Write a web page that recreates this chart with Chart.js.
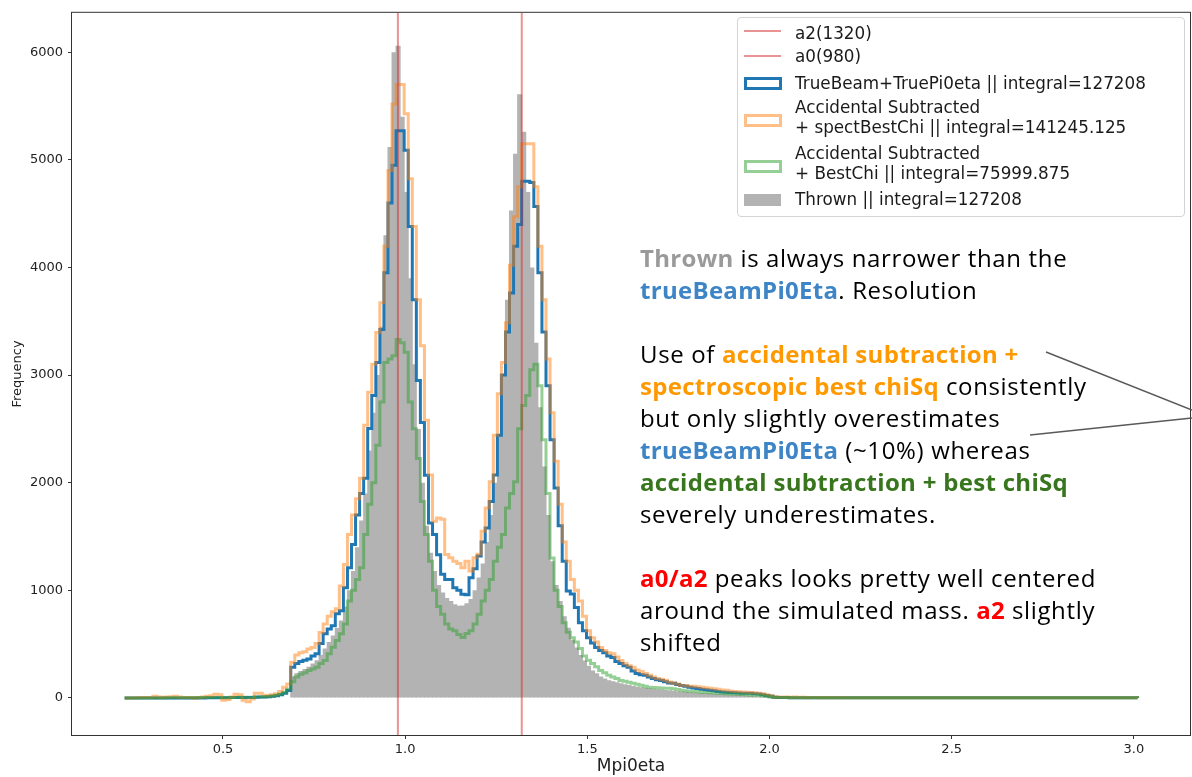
<!DOCTYPE html>
<html>
<head>
<meta charset="utf-8">
<title>Mpi0eta</title>
<script src="https://cdn.jsdelivr.net/npm/chart.js"></script>
<style>
  html, body { margin: 0; padding: 0; background: #fff; }
  #wrap { position: relative; width: 1192px; height: 777px; overflow: hidden; }
  #chart { position: absolute; left: 0; top: 0; }
  #legend {
    position: absolute; left: 737px; top: 17px; width: 446px; height: 198px;
    border: 1px solid #d4d4d4; border-radius: 4px; background: rgba(255,255,255,0.8);
    font-family: "DejaVu Sans", sans-serif; font-size: 16.8px; color: #1a1a1a;
  }
  #legend .row { position: absolute; left: 0; right: 0; }
  #legend .txt { position: absolute; left: 57px; top: 0; line-height: 20px; white-space: nowrap; }
  #legend .sw { position: absolute; left: 6px; box-sizing: border-box; }
  #notes {
    position: absolute; left: 640px; top: 242px; line-height: 32px;
    font-family: "Open Sans", sans-serif; font-size: 24px; letter-spacing: 0.65px;
    color: #000; white-space: nowrap;
  }
  #notes b { font-weight: 700; letter-spacing: 0.3px; }
</style>
</head>
<body>
<div id="wrap">
  <canvas id="chart" width="1192" height="777"></canvas>
  <div id="legend"></div>
  <div id="notes"><b style="color:#9a9a9a">Thrown</b> is always narrower than the<br><b style="color:#3d85c6">trueBeamPi0Eta</b>. Resolution<br><br>Use of <b style="color:#ff9900">accidental subtraction +</b><br><b style="color:#ff9900">spectroscopic best chiSq</b> consistently<br>but only slightly overestimates<br><b style="color:#3d85c6">trueBeamPi0Eta</b> (~10%) whereas<br><b style="color:#38761d">accidental subtraction + best chiSq</b><br>severely underestimates.<br><br><b style="color:#ff0000">a0/a2</b> peaks looks pretty well centered<br>around the simulated mass. <b style="color:#ff0000">a2</b> slightly<br>shifted</div>
</div>
<script>
// ---- histogram binning (250 bins) ----
const binStart = 0.23;
const binWidth = 0.01112;

// ---- resonance reference lines ----
const resonanceMass = [1.32, 0.98];
const resonanceLabel = ['a2(1320)', 'a0(980)'];

// ---- axis ticks ----
const xTicks = [0.5, 1.0, 1.5, 2.0, 2.5, 3.0];
const yTicks = [0, 1000, 2000, 3000, 4000, 5000, 6000];
const xRange = [0.0856, 3.154];
const yRange = [-344, 6366];

// ---- series (counts per bin) ----
const trueBeam = [
  0,0,0,0,0,0,0,0,0,0,
  0,0,0,0,0,0,0,0,0,0,
  2,2,3,3,3,3,4,4,4,5,
  5,5,6,8,10,12,15,20,30,45,
  70,286,320,340,350,362,390,412,505,597,
  640,671,782,810,1025,1209,1425,1701,1900,2041,
  2503,2810,3118,3424,3950,4600,4950,5270,5270,5090,
  4380,3700,2950,2560,2070,1625,1520,1330,1150,1100,
  1100,1025,1000,964,960,1117,1200,1318,1450,1579,
  1826,2072,2441,3000,3400,3763,4196,4400,4800,4800,
  4790,4566,3950,3400,2900,2400,1950,1600,1270,994,
  966,840,700,625,560,510,470,440,420,390,
  376,340,320,300,285,250,228,215,210,195,
  180,170,163,150,140,136,125,117,108,100,
  92,88,82,76,71,66,60,56,53,50,
  48,46,45,44,43,40,36,30,24,15,
  6,5,4,4,3,3,3,3,3,2,
  2,2,2,2,2,2,2,2,2,2,
  2,2,1,1,2,1,1,1,1,1,
  1,1,1,1,1,1,1,1,1,1,
  1,1,1,1,1,1,1,1,1,1,
  1,1,1,1,1,1,1,1,1,1,
  1,1,1,1,1,1,1,1,1,1,
  1,1,1,1,1,1,1,1,1,1,
  1,1,1,1,1,1,1,1,1,1
];
const spectBestChi = [
  0,0,0,5,5,5,5,15,10,5,
  10,12,15,10,5,5,5,0,5,10,
  15,20,35,30,-20,-15,10,35,30,-20,
  -35,-10,45,45,25,25,30,40,60,100,
  130,332,400,420,430,455,470,505,609,688,
  760,800,830,1040,1241,1518,1701,1850,2041,2533,
  2841,3100,3395,3672,4196,4900,5519,5700,5700,5427,
  4825,4380,3700,3272,2580,2072,1641,1671,1660,1333,
  1302,1271,1250,1209,1271,1179,1302,1336,1548,1764,
  2010,2440,2826,3118,3487,4020,4470,4750,5150,5150,
  5150,4750,4196,3700,3150,2650,2200,1800,1450,1270,
  1100,1000,902,760,625,560,520,470,440,420,
  410,380,348,320,300,285,260,245,228,210,
  195,180,175,165,148,140,130,117,115,110,
  108,105,100,95,90,85,80,75,71,65,
  60,58,55,53,50,48,45,40,30,22,
  10,8,6,10,5,8,4,6,3,5,
  4,3,5,2,4,3,2,4,3,2,
  3,2,3,1,2,3,2,1,2,2,
  1,2,1,2,1,1,2,1,1,2,
  1,1,2,1,1,1,2,1,1,1,
  1,2,1,1,1,1,1,2,1,1,
  1,1,1,1,2,1,1,1,1,1,
  1,1,1,1,1,1,1,1,1,1,
  1,1,1,1,1,1,1,1,1,1
];
const bestChi = [
  0,0,0,0,0,0,0,0,0,0,
  2,2,2,2,3,3,3,3,4,4,
  5,5,5,5,5,5,5,5,6,6,
  6,6,8,10,12,14,18,25,35,50,
  80,150,194,220,235,256,270,286,320,348,
  410,471,533,597,688,902,1000,1100,1209,1518,
  1800,2000,2349,2749,3118,3150,3180,3330,3300,3211,
  2749,2502,2225,1826,1518,1271,1000,850,779,688,
  640,625,590,563,600,625,688,779,902,1000,
  1100,1271,1400,1518,1764,1900,2010,2502,2718,2810,
  3050,3100,2900,2400,1900,1300,1000,850,700,610,
  560,520,460,390,350,320,290,256,235,210,
  195,180,163,155,145,136,128,118,108,99,
  97,95,93,91,90,85,78,72,67,62,
  60,57,54,51,48,46,45,43,40,38,
  36,34,32,30,28,26,25,20,15,10,
  6,5,4,4,3,3,3,2,2,2,
  2,2,2,2,2,2,2,2,2,2,
  2,2,1,2,1,1,2,1,1,1,
  1,1,1,1,1,1,1,1,1,1,
  1,1,1,1,1,1,1,1,1,1,
  1,1,1,1,1,1,1,1,1,1,
  1,1,1,1,1,1,1,1,1,1,
  1,1,1,1,1,1,1,1,1,1,
  1,1,1,1,1,1,1,1,1,1
];
const thrown = [
  0,0,0,0,0,0,0,0,0,0,
  0,0,0,0,0,0,0,0,0,0,
  0,0,0,0,0,0,0,0,0,0,
  0,0,0,0,0,0,0,0,0,0,
  0,200,230,250,270,290,320,350,400,460,
  520,580,650,720,850,1000,1180,1400,1650,1900,
  2300,2650,3000,3450,4300,5120,6000,6060,5400,4700,
  3900,3100,2500,2000,1600,1350,1180,1050,980,930,
  900,870,856,860,880,920,1000,1120,1250,1450,
  1700,2000,2450,3000,3700,4530,5056,5610,5260,4700,
  4000,3300,2700,2150,1700,1270,1050,902,760,653,
  540,470,400,348,300,256,230,200,180,165,
  155,145,136,128,120,112,105,99,95,90,
  86,82,78,75,71,67,63,60,57,54,
  51,48,46,44,43,40,38,36,34,32,
  30,28,25,22,20,17,14,11,9,7,
  6,4,3,2,2,1,1,0,0,0,
  0,0,0,0,0,0,0,0,0,0,
  0,0,0,0,0,0,0,0,0,0,
  0,0,0,0,0,0,0,0,0,0,
  0,0,0,0,0,0,0,0,0,0,
  0,0,0,0,0,0,0,0,0,0,
  0,0,0,0,0,0,0,0,0,0,
  0,0,0,0,0,0,0,0,0,0,
  0,0,0,0,0,0,0,0,0,0
];

const seriesLabels = [
  'TrueBeam+TruePi0eta || integral=127208',
  'Accidental Subtracted\n+ spectBestChi || integral=141245.125',
  'Accidental Subtracted\n+ BestChi || integral=75999.875',
  'Thrown || integral=127208'
];

const TICK_FONT = { family: 'DejaVu Sans', size: 13 };
const INK = '#222';
const PLOT_WIDTH = 1118;  // chart area width in px (72 .. 1190)

// outline of a matplotlib 'step' histogram, bin edges from binStart/binWidth
function stepPoints(values) {
  const pts = [{ x: binStart, y: 0 }];
  values.forEach((v, i) => pts.push({ x: binStart + i * binWidth, y: v }));
  const end = binStart + values.length * binWidth;
  pts.push({ x: end, y: values[values.length - 1] });
  pts.push({ x: end, y: 0 });
  return pts;
}

// filled histogram: one bar per bin, centred on the bin
function barPoints(values) {
  return values.map((v, i) => ({ x: binStart + (i + 0.5) * binWidth, y: v }));
}

// one bin in pixels, plus 1px so neighbouring bars overlap and leave no seams
const binPixels = binWidth * PLOT_WIDTH / (xRange[1] - xRange[0]) + 1;

const datasets = [];
resonanceMass.forEach((m, i) => {
  datasets.push({
    label: resonanceLabel[i], kind: 'vline',
    data: [{ x: m, y: yRange[0] }, { x: m, y: yRange[1] }],
    borderColor: 'rgba(214,39,40,0.5)', borderWidth: 2, order: 0
  });
});
datasets.push({
  label: seriesLabels[0], kind: 'step', data: stepPoints(trueBeam), stepped: true,
  borderColor: '#1f77b4', borderWidth: 3, fill: false, order: 3
});
datasets.push({
  label: seriesLabels[1], kind: 'step', data: stepPoints(spectBestChi), stepped: true,
  borderColor: 'rgba(255,127,14,0.5)', borderWidth: 3, fill: false, order: 2
});
datasets.push({
  label: seriesLabels[2], kind: 'step', data: stepPoints(bestChi), stepped: true,
  borderColor: 'rgba(44,160,44,0.5)', borderWidth: 3, fill: false, order: 1
});
// opaque grey (same as 60% grey on white)
datasets.push({
  type: 'bar', label: seriesLabels[3], kind: 'filled', data: barPoints(thrown),
  backgroundColor: '#b3b3b3', borderWidth: 0, inflateAmount: 0,
  barThickness: binPixels, grouped: false, order: 4
});

// box around the axes (all four spines)
const framePlugin = {
  id: 'frame',
  afterDatasetsDraw(chart) {
    const { ctx, chartArea: a } = chart;
    ctx.save();
    ctx.strokeStyle = '#333';
    ctx.lineWidth = 1;
    ctx.strokeRect(a.left - 0.5, a.top - 0.5, a.right - a.left + 1, a.bottom - a.top + 1);
    ctx.restore();
  }
};

// the two pointer lines next to the notes
const pointerPlugin = {
  id: 'pointers',
  afterDraw(chart) {
    const ctx = chart.ctx;
    ctx.save();
    ctx.strokeStyle = '#595959';
    ctx.lineWidth = 1.4;
    ctx.beginPath();
    ctx.moveTo(1046, 352); ctx.lineTo(1192, 410);
    ctx.moveTo(1030, 435); ctx.lineTo(1192, 418);
    ctx.stroke();
    ctx.restore();
  }
};

const chart = new Chart(document.getElementById('chart').getContext('2d'), {
  type: 'line',
  data: { datasets },
  options: {
    responsive: false,
    animation: false,
    devicePixelRatio: 1,
    layout: { padding: { top: 8, right: 2, left: 0, bottom: 0 } },
    elements: { point: { radius: 0 }, line: { tension: 0, borderCapStyle: 'butt' } },
    plugins: { legend: { display: false }, tooltip: { enabled: false } },
    scales: {
      x: {
        type: 'linear', min: xRange[0], max: xRange[1], offset: false,
        afterBuildTicks: s => { s.ticks = xTicks.map(v => ({ value: v })); },
        afterFit: s => { s.height = 42; },
        border: { display: false },
        grid: { offset: false, drawOnChartArea: false, tickLength: 4, tickColor: '#333' },
        ticks: { font: TICK_FONT, color: INK, padding: 3, maxRotation: 0, autoSkip: false,
                 callback: v => v.toFixed(1) },
        title: { display: true, text: 'Mpi0eta', color: INK,
                 font: { family: 'DejaVu Sans', size: 17 }, padding: { top: 0, bottom: 0 } }
      },
      y: {
        type: 'linear', min: yRange[0], max: yRange[1],
        afterBuildTicks: s => { s.ticks = yTicks.map(v => ({ value: v })); },
        afterFit: s => { s.width = 72; },
        border: { display: false },
        grid: { drawOnChartArea: false, tickLength: 4, tickColor: '#333' },
        ticks: { font: TICK_FONT, color: INK, padding: 5, callback: v => String(v) },
        title: { display: true, text: 'Frequency', color: INK,
                 font: { family: 'DejaVu Sans', size: 13 }, padding: { top: 10, bottom: 0 } }
      }
    }
  },
  plugins: [framePlugin, pointerPlugin]
});

// ---- HTML legend built from the chart's datasets ----
function buildLegend(chart) {
  const box = document.getElementById('legend');
  const rowTop = [5, 28, 55, 79, 125, 171];
  const swatchTop = [12, 37, 59, 96, 142, 176];
  chart.data.datasets.forEach((ds, i) => {
    const row = document.createElement('div');
    row.className = 'row';
    row.style.top = rowTop[i] + 'px';
    const sw = document.createElement('div');
    sw.className = 'sw';
    sw.style.top = (swatchTop[i] - rowTop[i]) + 'px';
    if (ds.kind === 'vline') {
      sw.style.width = '37px'; sw.style.height = '2px'; sw.style.background = ds.borderColor;
    } else if (ds.kind === 'step') {
      sw.style.width = '38px'; sw.style.height = '13px';
      sw.style.border = '3px solid ' + ds.borderColor;
    } else {
      sw.style.width = '37px'; sw.style.height = '12px'; sw.style.background = ds.backgroundColor;
    }
    const txt = document.createElement('div');
    txt.className = 'txt';
    ds.label.split('\n').forEach((line, k) => {
      if (k) txt.appendChild(document.createElement('br'));
      txt.appendChild(document.createTextNode(line));
    });
    row.appendChild(sw);
    row.appendChild(txt);
    box.appendChild(row);
  });
}
buildLegend(chart);
</script>
</body>
</html>
